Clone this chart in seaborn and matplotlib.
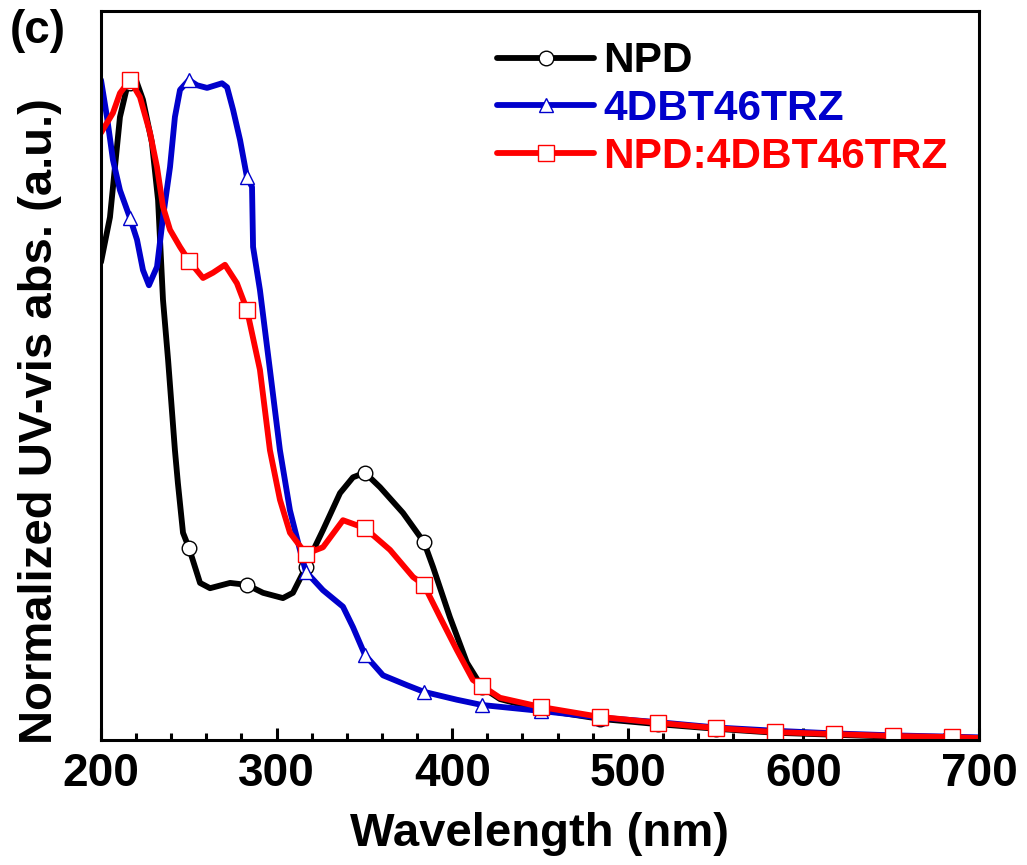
import numpy as np
import matplotlib
matplotlib.use("Agg")
import matplotlib.pyplot as plt
from matplotlib.ticker import MultipleLocator
import seaborn as sns

# wavelengths where the symbols sit (every ~33.5 nm)
marker_wl = [216.5, 250.1, 283.1, 316.7, 350.3, 383.9, 417.0, 450.6, 484.2,
             517.2, 550.2, 583.8, 617.4, 651.0, 684.6]

# NPD
npd_wl = [200.0, 205.1, 210.8, 214.8, 216.5, 219.9, 223.9, 229.0, 232.5, 235.3,
          238.2, 242.1, 243.8, 246.7, 250.1, 256.4, 262.1, 273.5, 283.1, 292.3,
          303.6, 309.3, 315.0, 316.7, 319.0, 326.4, 336.1, 343.5, 350.3, 358.9,
          372.0, 381.7, 383.9, 389.1, 398.7, 408.4, 417.0, 427.2, 450.6, 484.2,
          517.2, 550.2, 583.8, 617.4, 651.0, 684.6, 700.0]
npd_abs = [0.724, 0.792, 0.944, 0.989, 0.995, 1.000, 0.970, 0.905, 0.818, 0.667,
           0.576, 0.439, 0.389, 0.314, 0.291, 0.238, 0.230, 0.238, 0.235, 0.223,
           0.215, 0.223, 0.253, 0.262, 0.277, 0.318, 0.374, 0.398, 0.405, 0.383,
           0.344, 0.308, 0.300, 0.262, 0.186, 0.117, 0.080, 0.062, 0.046, 0.032,
           0.024, 0.017, 0.011, 0.008, 0.005, 0.004, 0.002]

# 4DBT46TRZ
trz_wl = [200.0, 203.4, 206.8, 210.8, 216.5, 220.5, 223.9, 227.3, 231.9, 235.3,
          239.3, 242.1, 245.0, 250.1, 254.7, 260.4, 268.9, 271.8, 275.2, 279.2,
          283.1, 286.0, 286.6, 290.5, 296.2, 301.9, 307.6, 313.3, 316.7, 326.4,
          337.8, 343.5, 350.3, 360.6, 374.3, 383.9, 402.7, 417.0, 450.6, 484.2,
          517.2, 550.2, 583.8, 617.4, 651.0, 684.6, 700.0]
trz_abs = [1.000, 0.944, 0.879, 0.833, 0.791, 0.758, 0.712, 0.689, 0.717, 0.792,
           0.868, 0.944, 0.985, 1.000, 0.992, 0.988, 0.995, 0.989, 0.955, 0.909,
           0.853, 0.838, 0.747, 0.682, 0.561, 0.439, 0.348, 0.288, 0.255, 0.227,
           0.202, 0.171, 0.129, 0.098, 0.083, 0.073, 0.061, 0.053, 0.044, 0.034,
           0.027, 0.019, 0.014, 0.010, 0.007, 0.005, 0.004]

# NPD:4DBT46TRZ
mix_wl = [200.0, 203.4, 206.8, 210.8, 216.5, 222.2, 227.9, 231.9, 235.3, 239.3,
          245.0, 250.1, 258.1, 263.8, 270.6, 277.4, 283.1, 290.5, 296.2, 301.9,
          307.6, 316.7, 326.4, 337.8, 350.3, 364.6, 377.7, 383.9, 393.1, 402.7,
          411.8, 417.0, 427.2, 450.6, 484.2, 517.2, 550.2, 583.8, 617.4, 651.0,
          684.6, 700.0]
mix_abs = [0.920, 0.935, 0.950, 0.980, 1.000, 0.974, 0.920, 0.868, 0.808, 0.773,
           0.747, 0.726, 0.700, 0.708, 0.720, 0.692, 0.652, 0.561, 0.439, 0.364,
           0.314, 0.282, 0.292, 0.333, 0.321, 0.288, 0.247, 0.235, 0.186, 0.136,
           0.091, 0.082, 0.064, 0.050, 0.035, 0.026, 0.018, 0.012, 0.009, 0.006,
           0.0045, 0.003]

labels = ["NPD", "4DBT46TRZ", "NPD:4DBT46TRZ"]
colors = ["black", "#0000cc", "#ff0000"]
markers = ["o", "^", "s"]

sns.set_theme(style="ticks")
plt.rcParams["font.family"] = ["Liberation Sans", "DejaVu Sans"]
plt.rcParams["font.weight"] = "bold"
plt.rcParams["text.color"] = "black"
plt.rcParams["axes.labelcolor"] = "black"
plt.rcParams["xtick.color"] = "black"
plt.rcParams["axes.edgecolor"] = "black"

fig = plt.figure(figsize=(10.27, 8.65), dpi=100)
ax = fig.add_axes([101 / 1027, 125 / 865, 878 / 1027, 729 / 865])

series = [(npd_wl, npd_abs), (trz_wl, trz_abs), (mix_wl, mix_abs)]
for (wl, ab), lab, c, m in zip(series, labels, colors, markers):
    idx = [i for i, w in enumerate(wl) if w in marker_wl]
    ms = 11.5 if m == "s" else 10.5
    sns.lineplot(x=wl, y=ab, ax=ax, color=c, linewidth=4.2, label=lab,
                 estimator=None, sort=False, marker=m, markevery=idx,
                 markersize=ms, markerfacecolor="white", markeredgecolor=c,
                 markeredgewidth=1.0)

ax.set_xlim(200, 700)
ax.set_ylim(0, 1.1045)
ax.set_yticks([])
ax.xaxis.set_major_locator(MultipleLocator(100))
ax.xaxis.set_minor_locator(MultipleLocator(20))
ax.tick_params(axis="x", which="major", direction="in", length=8.5, width=2.2,
               labelsize=33, pad=9, colors="black")
ax.tick_params(axis="x", which="minor", direction="in", length=5, width=2.2,
               colors="black")
for lbl in ax.get_xticklabels():
    lbl.set_fontweight("bold")
for sp in ax.spines.values():
    sp.set_linewidth(2.2)
    sp.set_color("black")
    sp.set_visible(True)

ax.set_xlabel("Wavelength (nm)", fontsize=34, fontweight="bold", labelpad=11,
              color="black")
ax.set_ylabel("")
fig.text(40 / 1027, 1 - 421 / 865, "Normalized UV-vis abs. (a.u.)", rotation=90,
         fontsize=34, fontweight="bold", ha="center", va="center", color="black")
fig.text(10 / 1027, 1 - 43 / 865, "(c)", fontsize=33, fontweight="bold",
         ha="left", va="baseline", color="black")

handles = ax.get_lines()[:3]
leg = ax.legend(handles=handles, labels=labels, loc="center left",
                bbox_to_anchor=(497 / 1027, 1 - 109 / 865),
                bbox_transform=fig.transFigure, frameon=False, fontsize=30,
                handlelength=2.3, handletextpad=0.2, labelspacing=0.18,
                borderpad=0, borderaxespad=0, numpoints=1,
                labelcolor="linecolor", prop={"weight": "bold", "size": 30.5})

fig.savefig("out.png", dpi=100)
